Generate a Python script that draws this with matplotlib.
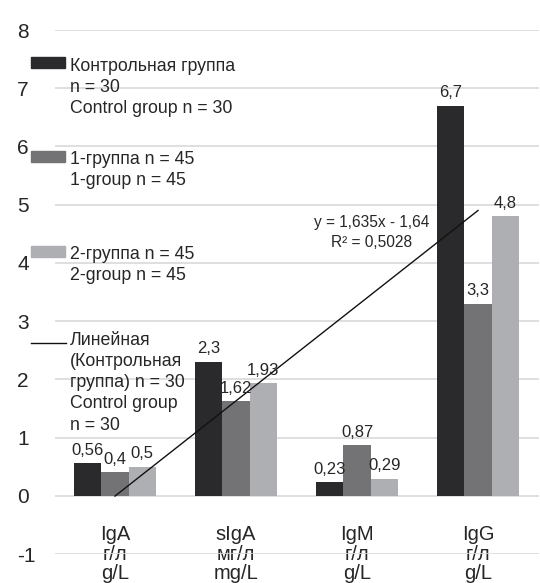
import matplotlib.pyplot as plt
import numpy as np
from matplotlib import rcParams
from matplotlib.lines import Line2D
from matplotlib.patches import Rectangle

rcParams.update({
    "font.family": ["Liberation Sans", "DejaVu Sans"],
    "axes.linewidth": 0.0,
})

CATEGORIES = ["IgA\nг/л\ng/L", "sIgA\nмг/л\nmg/L", "IgM\nг/л\ng/L", "IgG\nг/л\ng/L"]
CONTROL = [0.56, 2.3, 0.23, 6.7]
GROUP1 = [0.4, 1.62, 0.87, 3.3]
GROUP2 = [0.5, 1.93, 0.29, 4.8]
VALUE_TEXT = {
    "control": ["0,56", "2,3", "0,23", "6,7"],
    "group1": ["0,4", "1,62", "0,87", "3,3"],
    "group2": ["0,5", "1,93", "0,29", "4,8"],
}
TREND_SLOPE = 1.635
TREND_ICEPT = -1.64
TREND_TEXT = "y = 1,635x - 1,64\nR\u00b2 = 0,5028"
YTICKS = [-1, 0, 1, 2, 3, 4, 5, 6, 7, 8]

LEGEND_LABELS = [
    "Контрольная группа\nn = 30\nControl group n = 30",
    "1-группа n = 45\n1-group n = 45",
    "2-группа n = 45\n2-group n = 45",
    "Линейная\n(Контрольная\nгруппа) n = 30\nControl group\nn = 30",
]

COLORS = ["#2a292b", "#737376", "#aeafb2"]
GRID = "#d9d9d9"
TXT = "#262626"
W, H = 540, 583


def fx(px):
    return px / W


def fy(py):
    return 1 - py / H


def main():
    fig = plt.figure(figsize=(W / 100, H / 100), dpi=100)
    ax = fig.add_axes([fx(54.5), fy(554), (538.5 - 54.5) / W, (554 - 30) / H])

    x = np.arange(1, len(CATEGORIES) + 1)
    bw = 0.225
    series = [("control", CONTROL), ("group1", GROUP1), ("group2", GROUP2)]
    for k, (key, vals) in enumerate(series):
        bars = ax.bar(x + (k - 1) * bw, vals, bw, color=COLORS[k], zorder=2)
        for b, t in zip(bars, VALUE_TEXT[key]):
            ax.annotate(t, (b.get_x() + b.get_width() / 2, b.get_height()),
                        xytext=(0, 4), textcoords="offset points",
                        ha="center", va="bottom", fontsize=12, color=TXT,
                        zorder=4)

    # linear trend of the control group
    xt = np.array([1, 4])
    ax.plot(xt, TREND_SLOPE * xt + TREND_ICEPT, color="#111111", lw=1.0, zorder=3)
    ax.text(3.12, 4.52, TREND_TEXT, ha="center", va="center", fontsize=11.2,
            color=TXT, linespacing=1.45, zorder=4)

    ax.set_xlim(0.5, 4.5)
    ax.set_ylim(-1, 8)
    ax.set_yticks(YTICKS)
    ax.set_yticklabels([str(v) for v in YTICKS])
    ax.yaxis.grid(True, color=GRID, lw=1.2, zorder=0)
    ax.set_axisbelow(True)
    ax.tick_params(axis="y", length=0, pad=27, labelsize=15, labelcolor=TXT)
    for lab in ax.get_yticklabels():
        lab.set_horizontalalignment("left")

    ax.spines["bottom"].set_position(("data", 0))
    for s in ax.spines.values():
        s.set_visible(False)
    ax.set_xticks(x)
    ax.set_xticklabels(CATEGORIES, linespacing=1.05)
    ax.tick_params(axis="x", length=0, pad=21, labelsize=14.5, labelcolor=TXT)

    # legend on the left, drawn in figure pixels
    handle_y = [62.5, 156.5, 251, 343]
    text_top = [58, 151, 246, 332]
    for k in range(3):
        fig.add_artist(Rectangle((fx(31), fy(handle_y[k] + 5.5)), fx(34), 11 / H,
                                 color=COLORS[k], transform=fig.transFigure))
    fig.add_artist(Line2D([fx(31), fx(66)], [fy(handle_y[3])] * 2, color="#111111",
                          lw=1.0, transform=fig.transFigure))
    for lab, ty in zip(LEGEND_LABELS, text_top):
        fig.text(fx(70), fy(ty), lab, ha="left", va="top", fontsize=12.8,
                 color=TXT, linespacing=1.32)

    fig.savefig("out.png", dpi=100)
    plt.close(fig)


if __name__ == "__main__":
    main()
